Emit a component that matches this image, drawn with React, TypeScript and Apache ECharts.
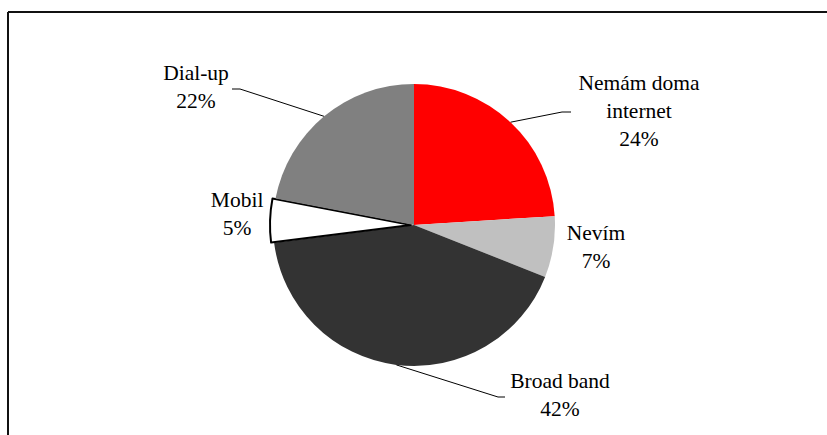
import React, { useEffect, useRef } from "react";
import * as echarts from "echarts";

const categories = ["Nemám doma\ninternet", "Nevím", "Broad band", "Mobil", "Dial-up"];
const values = [24, 7, 42, 5, 22];
const colors = ["#ff0000", "#c0c0c0", "#333333", "#ffffff", "#808080"];

// label block centres and leader-line bends (layout, not data)
const labelPos: Record<string, { x: number; y: number; line?: [number, number][] }> = {
  "Nemám doma\ninternet": { x: 639, y: 111, line: [[562, 112], [571, 112]] },
  "Nevím": { x: 596, y: 247 },
  "Broad band": { x: 560, y: 395, line: [[498, 397], [505, 397]] },
  "Dial-up": { x: 196, y: 87, line: [[240, 89], [232, 89]] },
};

const FONT = "Liberation Serif";

export default function App() {
  const ref = useRef<HTMLDivElement>(null);
  useEffect(() => {
    document.body.style.margin = "0";
    const chart = echarts.init(ref.current!, null, { renderer: "svg" });
    const data = categories.map((name, i) => {
      const item: any = {
        name,
        value: values[i],
        itemStyle: { color: colors[i] },
      };
      if (name === "Mobil") {
        // exploded slice: its label keeps the pie's own anchor, tuned by line lengths
        item.selected = true;
        item.itemStyle = { color: colors[i], borderColor: "#000", borderWidth: 2 };
        item.label = {
          formatter: (p: any) => `${p.name}\n${p.value}%\n{gap|}`,
          rich: { gap: { height: 12, lineHeight: 12 } },
        };
        item.labelLine = { show: false, length: 0, length2: 28 };
      } else if (!labelPos[name].line) {
        item.labelLine = { show: false };
      }
      return item;
    });
    chart.setOption({
      animation: false,
      backgroundColor: "#fff",
      graphic: [
        { type: "line", shape: { x1: 8, y1: 12, x2: 8, y2: 435 }, style: { stroke: "#111", lineWidth: 2 } },
        { type: "line", shape: { x1: 8, y1: 12, x2: 827, y2: 12 }, style: { stroke: "#111", lineWidth: 2 } },
      ],
      series: [
        {
          type: "pie",
          center: [414, 225],
          radius: 141,
          startAngle: 90,
          clockwise: true,
          selectedMode: "single",
          selectedOffset: 3,
          data,
          label: {
            show: true,
            position: "outside",
            formatter: (p: any) => `${p.name}\n${p.value}%`,
            color: "#000",
            fontFamily: FONT,
            fontSize: 21.5,
            lineHeight: 28,
            align: "center",
          },
          labelLine: { show: true, lineStyle: { color: "#000", width: 1 }, length: 10, length2: 10 },
          labelLayout: (params: any) => {
            const name = categories[params.dataIndex];
            const pos = labelPos[name];
            if (!pos) return { align: "center", verticalAlign: "middle" };
            const res: any = { x: pos.x, y: pos.y, align: "center", verticalAlign: "middle" };
            if (pos.line && params.labelLinePoints) {
              const start = params.labelLinePoints[0];
              res.labelLinePoints = [start, pos.line[0], pos.line[1]];
            }
            return res;
          },
          emphasis: { disabled: true },
          select: { itemStyle: {}, label: { color: "#000" } },
        },
      ],
    });
    return () => chart.dispose();
  }, []);
  return <div ref={ref} style={{ width: 827, height: 435 }} />;
}
